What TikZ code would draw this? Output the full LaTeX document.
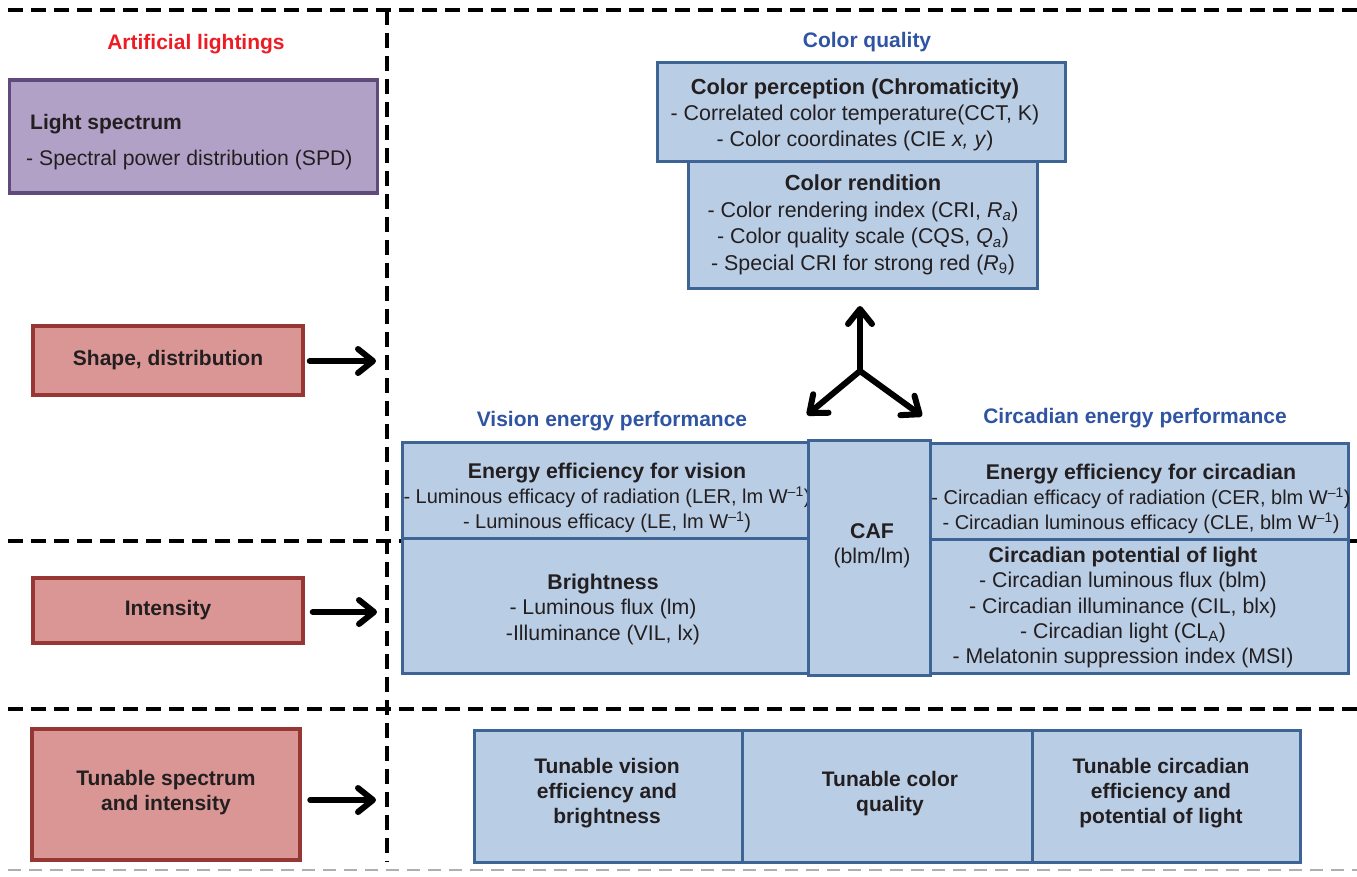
\documentclass[tikz,border=0pt]{standalone}
\usepackage{fontspec}
\setmainfont{Liberation Sans}
\usetikzlibrary{arrows.meta}
\definecolor{bluefill}{RGB}{185,205,229}
\definecolor{bluedraw}{RGB}{62,100,150}
\definecolor{redfill}{RGB}{217,150,148}
\definecolor{reddraw}{RGB}{150,55,52}
\definecolor{purpfill}{RGB}{178,161,199}
\definecolor{purpdraw}{RGB}{96,74,123}
\definecolor{redtitle}{RGB}{237,28,36}
\definecolor{bluetitle}{RGB}{47,84,163}
\definecolor{txtcol}{RGB}{35,31,32}
\definecolor{lightgray}{RGB}{175,175,175}
\newcommand\hd[1]{{\fontsize{21.3}{25.5}\selectfont\bfseries #1}}
\newcommand\wm{W\textsuperscript{–1}}
\tikzset{
  bluebox/.style={rectangle, draw=bluedraw, fill=bluefill, line width=3pt, inner sep=0pt},
  redbox/.style={rectangle, draw=reddraw, fill=redfill, line width=3.5pt, inner sep=0pt},
  purpbox/.style={rectangle, draw=purpdraw, fill=purpfill, line width=3.5pt, inner sep=0pt},
  txt/.style={font=\fontsize{21.3}{25.5}\selectfont, text=txtcol, align=center, inner sep=0pt},
  smalltxt/.style={font=\fontsize{20}{25}\selectfont},
  btxt/.style={font=\fontsize{21}{25}\selectfont\bfseries, text=txtcol, align=center, inner sep=0pt},
  ttl/.style={font=\fontsize{21}{25}\selectfont\bfseries, inner sep=0pt},
  bigarrow/.style={line width=6pt, line cap=round, -{Straight Barb[length=15pt,width=24pt,line width=0pt 1,round]}},
  divline/.style={line width=3.5pt, dash pattern=on 15pt off 8pt},
  grayline/.style={line width=2.5pt, lightgray, dash pattern=on 13pt off 8pt},
}
\begin{document}
\begin{tikzpicture}[x=1pt,y=-1pt]
\useasboundingbox (0,0) rectangle (1357,876);
% divider lines
\coordinate (tl) at (8,10); \coordinate (tr) at (1357,10);
\coordinate (vt) at (387,10); \coordinate (vb) at (387,862);
\coordinate (m1l) at (8,541); \coordinate (m1r) at (1357,541);
\coordinate (m2l) at (8,709); \coordinate (m2r) at (1357,709);
\coordinate (bl) at (8,870); \coordinate (br) at (1357,870);
\draw[divline] (tl) -- (tr);
\draw[divline] (vt) -- (vb);
\draw[divline] (m1l) -- (m1r);
\draw[divline] (m2l) -- (m2r);
\draw[grayline] (bl) -- (br);
% titles
\node[ttl, text=redtitle] (tArt) at (196,44) {Artificial lightings};
\node[ttl, text=bluetitle] (tCQ) at (867,42) {Color quality};
\node[ttl, text=bluetitle] (tVis) at (612,421) {Vision energy performance};
\node[ttl, text=bluetitle] (tCirc) at (1135,418) {Circadian energy performance};
% left column
\node[purpbox, minimum width=368pt, minimum height=113pt] (ls) at (193.5,136.5) {};
\node[btxt, anchor=base west] (lsh) at (30,129) {Light spectrum};
\node[txt, font=\fontsize{21.2}{25}\selectfont, anchor=base west] (lst) at (26,165) {- Spectral power distribution (SPD)};
\node[redbox, minimum width=270pt, minimum height=69pt] (shape) at (168,360.5) {};
\node[btxt] (shapet) at (shape) {Shape, distribution};
\node[redbox, minimum width=270pt, minimum height=65pt] (inten) at (168,610.5) {};
\node[btxt] (intent) at (inten) {Intensity};
\node[redbox, minimum width=268pt, minimum height=131pt] (tun) at (166,794.5) {};
\node[btxt] (tunt) at (166,793) {Tunable spectrum\\and intensity};
% left arrows
\coordinate (a1) at (376,361);
\coordinate (a2) at (377,612);
\coordinate (a3) at (376,800);
\draw[bigarrow, shorten <=5pt] (shape.east |- a1) -- (a1);
\draw[bigarrow, shorten <=8pt] (inten.east |- a2) -- (a2);
\draw[bigarrow, shorten <=8.5pt] (tun.east |- a3) -- (a3);
% color quality
\node[bluebox, minimum width=408pt, minimum height=99pt] (cp) at (861,112) {};
\node[bluebox, minimum width=349pt, minimum height=127pt] (cr) at (862.5,225) {};
\node[txt, font=\fontsize{21.4}{26}\selectfont] (cpt) at (855,115) {{\fontsize{21.8}{26}\selectfont\bfseries Color perception (Chromaticity)}\\- Correlated color temperature(CCT, K)\\- Color coordinates (CIE \textit{x, y})};
\node[txt, font=\fontsize{21.4}{26.5}\selectfont] (crt) at (863,225) {{\fontsize{21.8}{26.5}\selectfont\bfseries Color rendition}\\- Color rendering index (CRI, \textit{R}\textsubscript{\textit{a}})\\- Color quality scale (CQS, \textit{Q}\textsubscript{\textit{a}})\\- Special CRI for strong red (\textit{R}\textsubscript{9})};
% three-way arrow
\coordinate (hub) at (860,371);
\coordinate (up) at (860,306);
\coordinate (dl) at (807,415);
\coordinate (dr) at (922,416);
\draw[bigarrow] (hub) -- (up);
\draw[bigarrow] (hub) -- (dl);
\draw[bigarrow] (hub) -- (dr);
% vision
\node[bluebox, minimum width=406pt, minimum height=96pt] (vt1) at (605.5,490) {};
\node[bluebox, minimum width=406pt, minimum height=135pt] (vb1) at (605.5,605.5) {};
\node[txt, smalltxt] (vt1t) at (607,498) {\hd{Energy efficiency for vision}\\- Luminous efficacy of radiation (LER, lm \wm)\\- Luminous efficacy (LE, lm \wm)};
\node[txt] (vb1t) at (603,609) {\hd{Brightness}\\- Luminous flux (lm)\\-Illuminance (VIL, lx)};
% circadian
\node[bluebox, minimum width=418pt, minimum height=96pt] (ct1) at (1139,491) {};
\node[bluebox, minimum width=418pt, minimum height=134pt] (cb1) at (1139,606) {};
\node[txt, smalltxt] (ct1t) at (1141,499) {\hd{Energy efficiency for circadian}\\- Circadian efficacy of radiation (CER, blm \wm)\\- Circadian luminous efficacy (CLE, blm \wm)};
\node[txt, font=\fontsize{21.3}{25.3}\selectfont] (cb1t) at (1123,607.5) {\hd{Circadian potential of light}\\- Circadian luminous flux (blm)\\- Circadian illuminance (CIL, blx)\\- Circadian light (CL\textsubscript{A})\\- Melatonin suppression index (MSI)};
% CAF
\node[bluebox, minimum width=122pt, minimum height=235pt] (caf) at (869,557.5) {};
\node[txt] (caft) at (872,546) {\hd{CAF}\\(blm/lm)};
% bottom row
\node[bluebox, minimum width=268pt, minimum height=132pt] (b1) at (608,796) {};
\node[bluebox, minimum width=290pt, minimum height=132pt] (b2) at (887,796) {};
\node[bluebox, minimum width=268pt, minimum height=132pt] (b3) at (1166,796) {};
\node[btxt] (b1t) at (607,793) {Tunable vision\\efficiency and\\brightness};
\node[btxt] (b2t) at (890,793.5) {Tunable color\\quality};
\node[btxt] (b3t) at (1161,793) {Tunable circadian\\efficiency and\\potential of light};
\end{tikzpicture}
\end{document}
